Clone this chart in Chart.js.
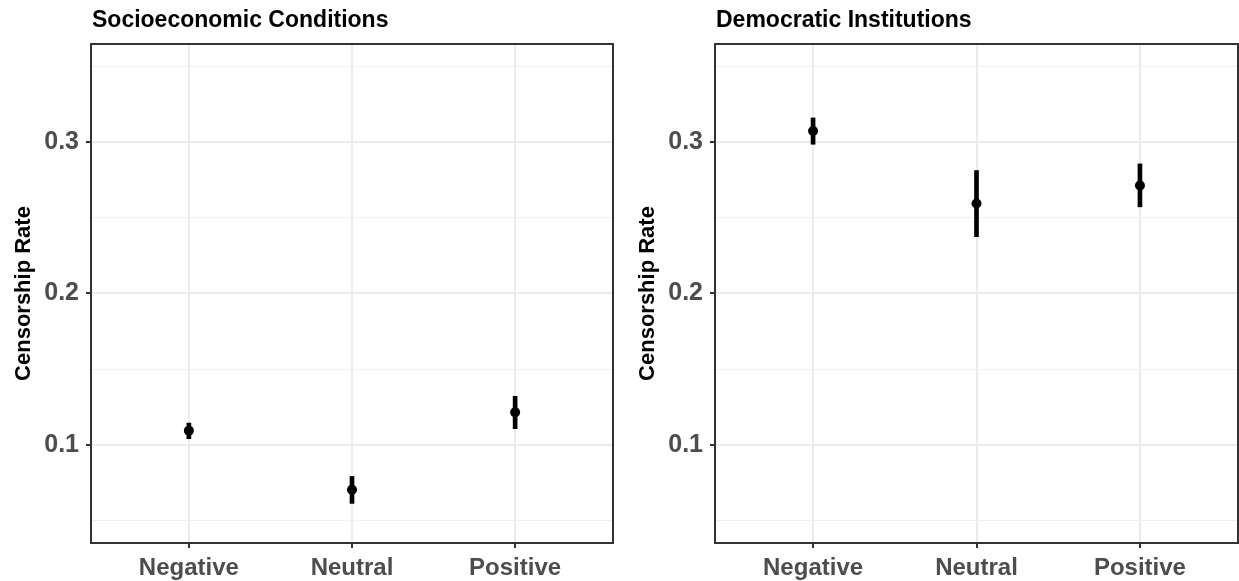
<!DOCTYPE html>
<html>
<head>
<meta charset="utf-8">
<script src="https://cdn.jsdelivr.net/npm/chart.js@4/dist/chart.umd.min.js"></script>
<style>
  html, body { margin: 0; padding: 0; background: #fff; }
  .panel { position: absolute; top: 0; height: 581px; }
  #panel-socio { left: 0; width: 620px; }
  #panel-demo { left: 620px; width: 619px; }
</style>
</head>
<body>
<div class="panel" id="panel-socio"><canvas id="chart-socio"></canvas></div>
<div class="panel" id="panel-demo"><canvas id="chart-demo"></canvas></div>
<script>
  // Sentiment categories on the x axis
  const categories = ['Negative', 'Neutral', 'Positive'];

  // Socioeconomic conditions: estimate with interval bounds
  const socioRate = [0.1093, 0.0702, 0.1214];
  const socioLow = [0.1040, 0.0612, 0.1106];
  const socioHigh = [0.1143, 0.0790, 0.1320];

  // Democratic institutions: estimate with interval bounds
  const demoRate = [0.3075, 0.2595, 0.2714];
  const demoLow = [0.2987, 0.2376, 0.2573];
  const demoHigh = [0.3161, 0.2813, 0.2857];

  // Y axis ticks (labelled majors, unlabelled minors)
  const majorTicks = [0.1, 0.2, 0.3];
  const minorTicks = [0.05, 0.15, 0.25, 0.35];

  const FONT = "'Liberation Sans', Arial, Helvetica, sans-serif";
  const INK = '#333333';

  // Helper: is this y value a labelled major tick
  function isMajor(v) {
    return majorTicks.some(t => Math.abs(t - v) < 1e-9);
  }

  // Panel frame and left-aligned title
  const panelDecor = {
    id: 'panelDecor',
    afterDraw(chart, args, opts) {
      const { ctx, chartArea: a } = chart;
      ctx.save();
      ctx.strokeStyle = INK;
      ctx.lineWidth = 2;
      ctx.strokeRect(a.left, a.top, a.right - a.left, a.bottom - a.top);
      ctx.fillStyle = '#000';
      ctx.font = 'bold 23px ' + FONT;
      ctx.textBaseline = 'alphabetic';
      ctx.textAlign = 'left';
      ctx.fillText(opts.text, a.left + 1, 27);
      ctx.restore();
    }
  };

  function buildChart(canvasId, title, rate, low, high, axisWidth, padRight, titlePad) {
    const ctx = document.getElementById(canvasId).getContext('2d');
    return new Chart(ctx, {
      type: 'bar',
      data: {
        datasets: [
          {
            type: 'scatter',
            order: 0,
            data: rate.map((v, i) => ({ x: i + 1, y: v })),
            backgroundColor: '#000',
            borderWidth: 0,
            pointRadius: 5,
            pointHoverRadius: 5
          },
          {
            type: 'bar',
            order: 1,
            data: low.map((v, i) => ({ x: i + 1, y: [v, high[i]] })),
            backgroundColor: '#000',
            borderWidth: 0,
            barThickness: 4
          }
        ]
      },
      options: {
        responsive: true,
        maintainAspectRatio: false,
        animation: false,
        layout: {
          autoPadding: false,
          padding: { top: 44, right: padRight, bottom: 0, left: 0 }
        },
        plugins: {
          legend: { display: false },
          tooltip: { enabled: false },
          panelDecor: { text: title }
        },
        scales: {
          x: {
            type: 'linear',
            offset: false,
            min: 0.4,
            max: 3.6,
            afterBuildTicks: s => { s.ticks = categories.map((c, i) => ({ value: i + 1 })); },
            afterFit: s => {
              s.height = 38;
              s.paddingLeft = 0;
              s.paddingRight = 0;
            },
            border: { display: false },
            grid: {
              offset: false,
              color: '#EBEBEB',
              lineWidth: 2,
              tickLength: 5,
              tickColor: INK,
              tickWidth: 2
            },
            ticks: {
              autoSkip: false,
              maxRotation: 0,
              padding: 6,
              color: '#4D4D4D',
              font: { family: FONT, size: 24, weight: 'bold' },
              callback: v => categories[Math.round(v) - 1]
            }
          },
          y: {
            min: 0.035,
            max: 0.365,
            afterBuildTicks: s => {
              s.ticks = minorTicks.concat(majorTicks).sort((a, b) => a - b).map(v => ({ value: v }));
            },
            afterFit: s => { s.width = axisWidth; },
            border: { display: false },
            grid: {
              color: c => isMajor(c.tick.value) ? '#EBEBEB' : '#F0F0F0',
              lineWidth: c => isMajor(c.tick.value) ? 2 : 1,
              tickLength: 5,
              tickColor: c => isMajor(c.tick.value) ? INK : 'rgba(0,0,0,0)',
              tickWidth: 2
            },
            ticks: {
              autoSkip: false,
              padding: 7,
              color: '#4D4D4D',
              font: { family: FONT, size: 25, weight: 'bold' },
              callback: v => isMajor(v) ? v.toFixed(1) : ''
            },
            title: {
              display: true,
              text: 'Censorship Rate',
              color: '#000',
              padding: { top: titlePad, bottom: 0 },
              font: { family: FONT, size: 22, weight: 'bold' }
            }
          }
        }
      },
      plugins: [panelDecor]
    });
  }

  buildChart('chart-socio', 'Socioeconomic Conditions', socioRate, socioLow, socioHigh, 91, 7, 11);
  buildChart('chart-demo', 'Democratic Institutions', demoRate, demoLow, demoHigh, 95, 1, 15);
</script>
</body>
</html>
